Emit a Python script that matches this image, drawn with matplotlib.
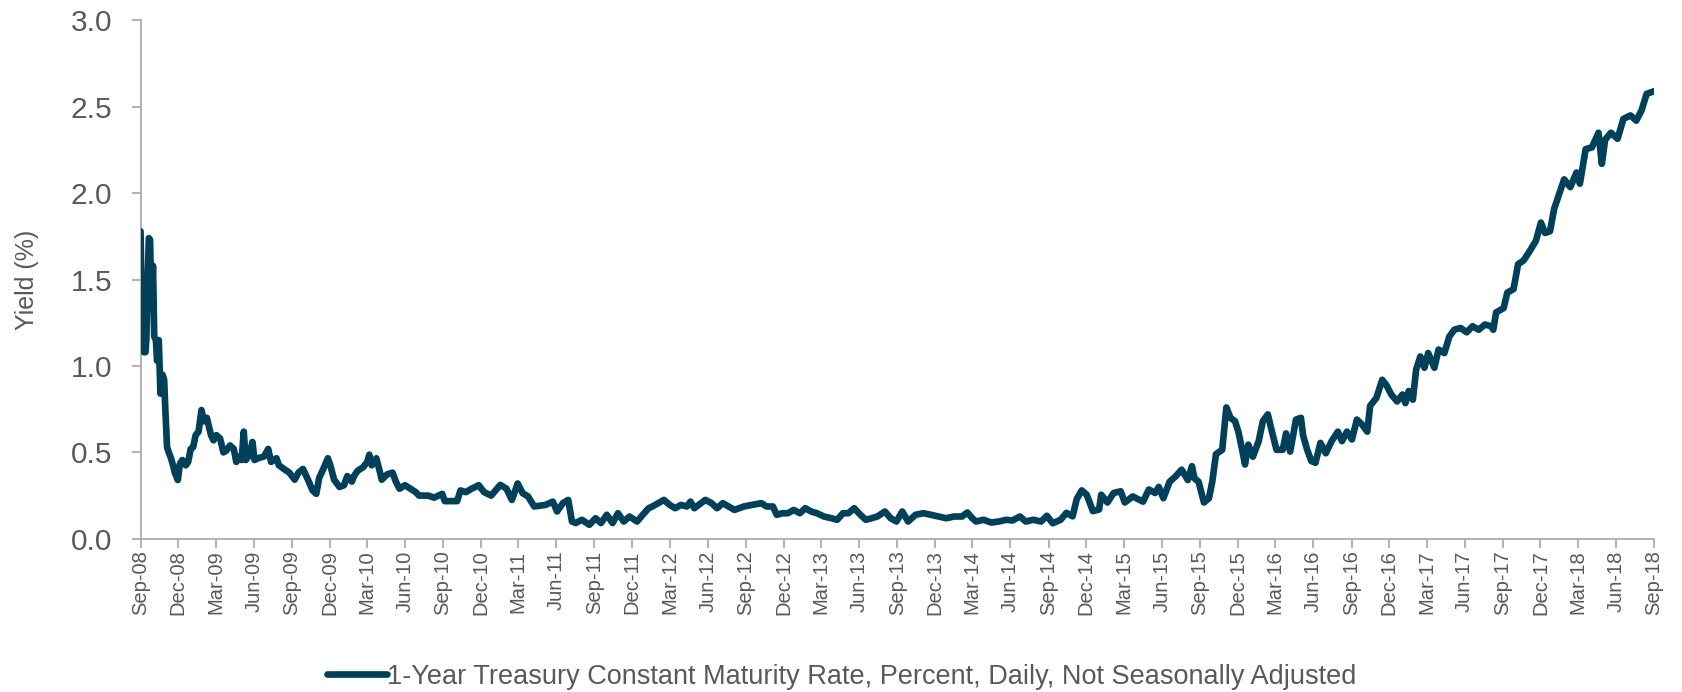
import matplotlib
matplotlib.use("Agg")
import matplotlib.pyplot as plt
import matplotlib.dates as mdates
import pandas as pd

# ---------------------------------------------------------------- data
# values (1-year CMT yield, %)
dates_0810 = [
    "2008-09-01", "2008-09-05", "2008-09-09", "2008-09-13", "2008-09-15",
    "2008-09-21", "2008-09-24", "2008-09-26", "2008-09-28", "2008-10-01",
    "2008-10-02", "2008-10-04", "2008-10-08", "2008-10-11", "2008-10-15",
    "2008-10-19", "2008-10-24", "2008-10-28", "2008-10-31", "2008-11-04",
    "2008-11-08", "2008-11-13", "2008-11-19", "2008-11-23", "2008-11-30",
    "2008-12-05", "2008-12-11", "2008-12-19", "2008-12-25", "2008-12-31",
    "2009-01-06", "2009-01-12", "2009-01-19", "2009-01-26", "2009-02-01",
    "2009-02-08", "2009-02-14", "2009-02-18", "2009-02-24", "2009-03-03",
    "2009-03-12", "2009-03-20", "2009-03-27", "2009-04-05", "2009-04-14",
    "2009-04-20", "2009-04-28", "2009-05-03", "2009-05-08", "2009-05-13",
    "2009-05-22", "2009-05-29", "2009-06-03", "2009-06-11", "2009-06-26",
    "2009-07-06", "2009-07-13", "2009-07-26", "2009-08-01", "2009-08-13",
    "2009-08-26", "2009-09-08", "2009-09-17", "2009-09-28", "2009-10-10",
    "2009-10-21", "2009-10-30", "2009-11-06", "2009-11-16", "2009-11-27",
    "2009-12-03", "2009-12-12", "2009-12-25", "2010-01-05", "2010-01-13",
    "2010-01-24", "2010-01-29", "2010-02-07", "2010-02-20", "2010-03-02",
    "2010-03-07", "2010-03-13", "2010-03-24", "2010-04-02", "2010-04-06",
    "2010-04-19", "2010-05-02", "2010-05-10", "2010-05-19", "2010-06-01",
    "2010-06-14", "2010-06-27", "2010-07-05", "2010-07-27", "2010-08-10",
    "2010-08-30", "2010-09-05", "2010-09-18", "2010-10-05", "2010-10-13",
    "2010-10-26", "2010-11-09", "2010-11-26", "2010-12-09", "2010-12-26",
]
yield_0810 = [
    1.78, 1.25, 1.08, 1.08, 1.15,
    1.74, 1.73, 1.50, 1.34, 1.58,
    1.46, 1.17, 1.15, 1.03, 1.15,
    0.84, 0.95, 0.92, 0.74, 0.53,
    0.50, 0.47, 0.42, 0.38, 0.34,
    0.435, 0.456, 0.425, 0.445, 0.52,
    0.53, 0.60, 0.62, 0.745, 0.68,
    0.70, 0.64, 0.60, 0.57, 0.60,
    0.58, 0.50, 0.51, 0.54, 0.52,
    0.445, 0.476, 0.456, 0.62, 0.456,
    0.487, 0.56, 0.456, 0.466, 0.476,
    0.52, 0.445, 0.466, 0.425, 0.404,
    0.383, 0.342, 0.383, 0.404, 0.342,
    0.28, 0.26, 0.352, 0.404, 0.466,
    0.425, 0.342, 0.30, 0.31, 0.363,
    0.331, 0.363, 0.394, 0.414, 0.445,
    0.487, 0.425, 0.466, 0.383, 0.342,
    0.373, 0.383, 0.331, 0.29, 0.31,
    0.29, 0.27, 0.25, 0.25, 0.238,
    0.26, 0.218, 0.218, 0.218, 0.28,
    0.27, 0.29, 0.31, 0.27, 0.25,
]

dates_1114 = [
    "2011-01-17", "2011-02-01", "2011-02-14", "2011-02-28", "2011-03-12",
    "2011-03-25", "2011-04-09", "2011-05-06", "2011-05-24", "2011-06-03",
    "2011-06-17", "2011-06-30", "2011-07-09", "2011-07-18", "2011-08-02",
    "2011-08-20", "2011-09-04", "2011-09-17", "2011-10-01", "2011-10-15",
    "2011-10-28", "2011-11-11", "2011-11-25", "2011-12-13", "2011-12-27",
    "2012-01-10", "2012-01-19", "2012-02-16", "2012-03-01", "2012-03-14",
    "2012-03-28", "2012-04-11", "2012-04-20", "2012-04-29", "2012-05-26",
    "2012-06-10", "2012-06-23", "2012-07-07", "2012-07-21", "2012-08-04",
    "2012-08-27", "2012-09-15", "2012-10-08", "2012-10-21", "2012-11-05",
    "2012-11-14", "2012-11-28", "2012-12-11", "2012-12-25", "2013-01-09",
    "2013-01-22", "2013-02-05", "2013-02-19", "2013-03-08", "2013-03-26",
    "2013-04-09", "2013-04-23", "2013-05-06", "2013-05-20", "2013-06-04",
    "2013-06-17", "2013-07-01", "2013-07-15", "2013-08-02", "2013-08-16",
    "2013-08-30", "2013-09-13", "2013-09-27", "2013-10-15", "2013-11-03",
    "2013-11-21", "2013-12-09", "2013-12-28", "2014-01-16", "2014-02-04",
    "2014-02-17", "2014-03-01", "2014-03-10", "2014-03-28", "2014-04-16",
    "2014-05-04", "2014-05-22", "2014-06-06", "2014-06-24", "2014-07-08",
    "2014-07-26", "2014-08-14", "2014-08-28",
]
yield_1114 = [
    0.312, 0.29, 0.225, 0.32, 0.264,
    0.245, 0.187, 0.196, 0.215, 0.158,
    0.206, 0.225, 0.10, 0.091, 0.11,
    0.081, 0.119, 0.091, 0.139, 0.091,
    0.148, 0.10, 0.129, 0.10, 0.139,
    0.177, 0.187, 0.225, 0.196, 0.177,
    0.196, 0.187, 0.215, 0.177, 0.225,
    0.206, 0.177, 0.206, 0.187, 0.167,
    0.187, 0.196, 0.206, 0.187, 0.187,
    0.139, 0.148, 0.148, 0.167, 0.148,
    0.177, 0.158, 0.148, 0.129, 0.119,
    0.11, 0.148, 0.148, 0.177, 0.139,
    0.11, 0.119, 0.129, 0.158, 0.119,
    0.10, 0.158, 0.10, 0.139, 0.148,
    0.139, 0.129, 0.119, 0.129, 0.129,
    0.152, 0.119, 0.10, 0.11, 0.094,
    0.10, 0.11, 0.106, 0.129, 0.10,
    0.11, 0.10, 0.133,
]

dates_1418 = [
    "2014-09-11", "2014-09-30", "2014-10-14", "2014-10-29", "2014-11-08",
    "2014-11-20", "2014-12-02", "2014-12-17", "2015-01-01", "2015-01-06",
    "2015-01-21", "2015-02-05", "2015-02-22", "2015-03-04", "2015-03-23",
    "2015-04-17", "2015-05-01", "2015-05-16", "2015-05-25", "2015-06-05",
    "2015-06-20", "2015-07-04", "2015-07-19", "2015-08-03", "2015-08-13",
    "2015-08-19", "2015-08-29", "2015-09-11", "2015-09-23", "2015-10-01",
    "2015-10-10", "2015-10-25", "2015-11-04", "2015-11-14", "2015-11-25",
    "2015-12-03", "2015-12-13", "2015-12-19", "2015-12-27", "2016-01-07",
    "2016-01-21", "2016-01-31", "2016-02-12", "2016-02-20", "2016-03-04",
    "2016-03-19", "2016-03-27", "2016-04-06", "2016-04-20", "2016-05-02",
    "2016-05-07", "2016-05-17", "2016-05-27", "2016-06-06", "2016-06-18",
    "2016-07-01", "2016-07-15", "2016-07-30", "2016-08-09", "2016-08-21",
    "2016-09-02", "2016-09-14", "2016-09-27", "2016-10-09", "2016-10-16",
    "2016-10-31", "2016-11-14", "2016-11-24", "2016-12-06", "2016-12-20",
    "2017-01-02", "2017-01-09", "2017-01-17", "2017-01-27", "2017-02-04",
    "2017-02-14", "2017-02-24", "2017-03-05", "2017-03-20", "2017-03-30",
    "2017-04-13", "2017-04-25", "2017-05-07", "2017-05-22", "2017-06-06",
    "2017-06-20", "2017-07-05", "2017-07-20", "2017-08-04", "2017-08-09",
    "2017-08-16", "2017-09-03", "2017-09-12", "2017-09-27", "2017-10-08",
    "2017-10-21", "2017-11-05", "2017-11-20", "2017-12-02", "2017-12-12",
    "2017-12-24", "2018-01-03", "2018-01-15", "2018-01-27", "2018-02-11",
    "2018-02-26", "2018-03-06", "2018-03-20", "2018-04-04", "2018-04-20",
    "2018-04-28", "2018-05-06", "2018-05-20", "2018-06-05", "2018-06-19",
    "2018-07-06", "2018-07-20", "2018-08-02", "2018-08-14", "2018-09-01",
]
yield_1418 = [
    0.09, 0.11, 0.15, 0.13, 0.23,
    0.28, 0.255, 0.16, 0.17, 0.255,
    0.21, 0.265, 0.275, 0.21, 0.245,
    0.215, 0.285, 0.265, 0.30, 0.235,
    0.33, 0.36, 0.40, 0.34, 0.42,
    0.35, 0.33, 0.21, 0.235, 0.33,
    0.49, 0.515, 0.76, 0.70, 0.68,
    0.62, 0.505, 0.43, 0.545, 0.475,
    0.565, 0.68, 0.72, 0.64, 0.515,
    0.515, 0.61, 0.505, 0.69, 0.70,
    0.60, 0.515, 0.45, 0.44, 0.555,
    0.495, 0.565, 0.62, 0.565, 0.62,
    0.575, 0.69, 0.66, 0.62, 0.77,
    0.815, 0.92, 0.89, 0.835, 0.795,
    0.835, 0.785, 0.855, 0.805, 0.98,
    1.055, 0.99, 1.075, 0.99, 1.095,
    1.075, 1.17, 1.21, 1.22, 1.195,
    1.23, 1.21, 1.24, 1.23, 1.21,
    1.31, 1.335, 1.425, 1.445, 1.59,
    1.61, 1.665, 1.725, 1.83, 1.77,
    1.78, 1.91, 1.995, 2.08, 2.035,
    2.12, 2.055, 2.255, 2.265, 2.35,
    2.17, 2.31, 2.35, 2.315, 2.43,
    2.45, 2.42, 2.48, 2.575, 2.59,
]

series_label = ("1-Year Treasury Constant Maturity Rate, Percent, Daily, "
                "Not Seasonally Adjusted")
y_ticks = [0.0, 0.5, 1.0, 1.5, 2.0, 2.5, 3.0]

# ---------------------------------------------------------------- style
LINE = "#004059"
GREY_TXT = "#595959"
GREY_AX = "#A6A6A6"
plt.rcParams["font.family"] = ["Liberation Sans", "DejaVu Sans"]

x = pd.to_datetime(dates_0810 + dates_1114 + dates_1418)
y = yield_0810 + yield_1114 + yield_1418

fig = plt.figure(figsize=(16.83, 6.92), dpi=100)
ax = fig.add_axes([0.0835, 0.2214, 0.8993, 0.7491])

ax.plot(x, y, color=LINE, linewidth=4.8,
        solid_joinstyle="round", solid_capstyle="round",
        label=series_label, zorder=3)

# axes / ticks
start, end = pd.Timestamp("2008-09-01"), pd.Timestamp("2018-09-01")
ax.set_xlim(start, end)
ax.set_ylim(0, 3.0)
qticks = pd.date_range(start, end, freq="3MS")
ax.set_xticks(qticks)
ax.xaxis.set_major_formatter(mdates.DateFormatter("%b-%y"))
ax.set_yticks(y_ticks)
ax.set_yticklabels([f"{v:.1f}" for v in y_ticks])

for s in ("top", "right"):
    ax.spines[s].set_visible(False)
for s in ("left", "bottom"):
    ax.spines[s].set_color(GREY_AX)
    ax.spines[s].set_linewidth(1.2)

ax.tick_params(axis="y", direction="out", length=6.5, width=1.2,
               color=GREY_AX, pad=14, labelsize=21.5, labelcolor=GREY_TXT)
ax.tick_params(axis="x", direction="out", length=6.5, width=1.2,
               color=GREY_AX, pad=2, labelsize=14.5, labelcolor=GREY_TXT,
               labelrotation=90)

ax.set_ylabel("Yield (%)", fontsize=18, color=GREY_TXT)
ax.yaxis.set_label_coords(-0.067, 0.5)

leg = fig.legend(loc="center", bbox_to_anchor=(0.5, 0.022),
                 frameon=False, fontsize=19.5, handlelength=2.2,
                 handletextpad=0.0, borderpad=0)
for t in leg.get_texts():
    t.set_color(GREY_TXT)

fig.savefig("out.png", dpi=100, facecolor="white")
